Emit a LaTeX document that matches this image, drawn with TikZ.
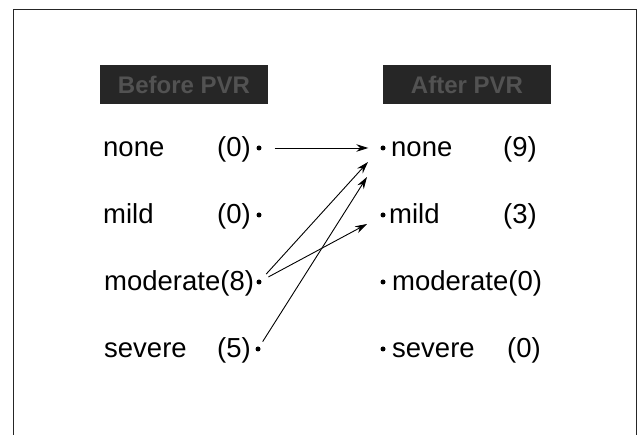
\documentclass[tikz,border=0pt]{standalone}
\usepackage{fontspec}
\setmainfont{Liberation Sans}
\usetikzlibrary{arrows.meta}
\begin{document}
\begin{tikzpicture}[x=1pt,y=-1pt,
  lbl/.style={inner sep=0pt, font=\fontsize{27.5}{32}\selectfont},
  dotn/.style={circle, fill=black, inner sep=0pt, minimum size=5pt},
  hdr/.style={fill=black!85, text=black!68, inner sep=0pt, minimum width=168pt, minimum height=39pt, font=\bfseries\fontsize{24}{28}\selectfont},
  arr/.style={line width=0.9pt, -{Stealth[length=12pt,width=7.5pt]}},
  frame/.style={line width=0.8pt, black!85}]
\useasboundingbox (0,0) rectangle (641,435);
\draw[frame] (13,435) -- (13,9) -- (636,9) -- (636,435);
% headers
\node[hdr] (H1) at (184,84.5) {Before PVR};
\node[hdr] (H2) at (467,84.5) {After PVR};
% left column
\node[lbl, anchor=base west] (n1) at (103,157) {none};
\node[lbl, anchor=base east] (c1) at (251,157) {(0)};
\node[dotn] (L1) at (259,148) {};
\node[lbl, anchor=base west] (n2) at (103,224) {mild};
\node[lbl, anchor=base east] (c2) at (251,224) {(0)};
\node[dotn] (L2) at (259,215) {};
\node[lbl, anchor=base west] (n3) at (104,291) {moderate(8)};
\node[dotn] (L3) at (259,282) {};
\node[lbl, anchor=base west] (n4) at (104,358) {severe};
\node[lbl, anchor=base east] (c4) at (251,358) {(5)};
\node[dotn] (L4) at (258,349) {};
% right column
\node[dotn] (R1) at (383,148) {};
\node[lbl, anchor=base west] (m1) at (391,157) {none};
\node[lbl, anchor=base east] (d1) at (537,157) {(9)};
\node[dotn] (R2) at (383,215) {};
\node[lbl, anchor=base west] (m2) at (389,224) {mild};
\node[lbl, anchor=base east] (d2) at (537,224) {(3)};
\node[dotn] (R3) at (383,282) {};
\node[lbl, anchor=base west] (m3) at (392,291) {moderate(0)};
\node[dotn] (R4) at (383,349) {};
\node[lbl, anchor=base west] (m4) at (392,358) {severe};
\node[lbl, anchor=base east] (d4) at (541,358) {(0)};
% arrow tips
\coordinate (tA) at (368,162);
\coordinate (tB) at (367,224);
\coordinate (tC) at (367,177);
\draw[arr, shorten <=13pt, shorten >=12pt] (L1) -- (R1);
\draw[arr, shorten <=8pt] (L3) -- (tA);
\draw[arr, shorten <=8pt] (L3) -- (tB);
\draw[arr, shorten <=6pt] (L4) -- (tC);
\end{tikzpicture}
\end{document}
